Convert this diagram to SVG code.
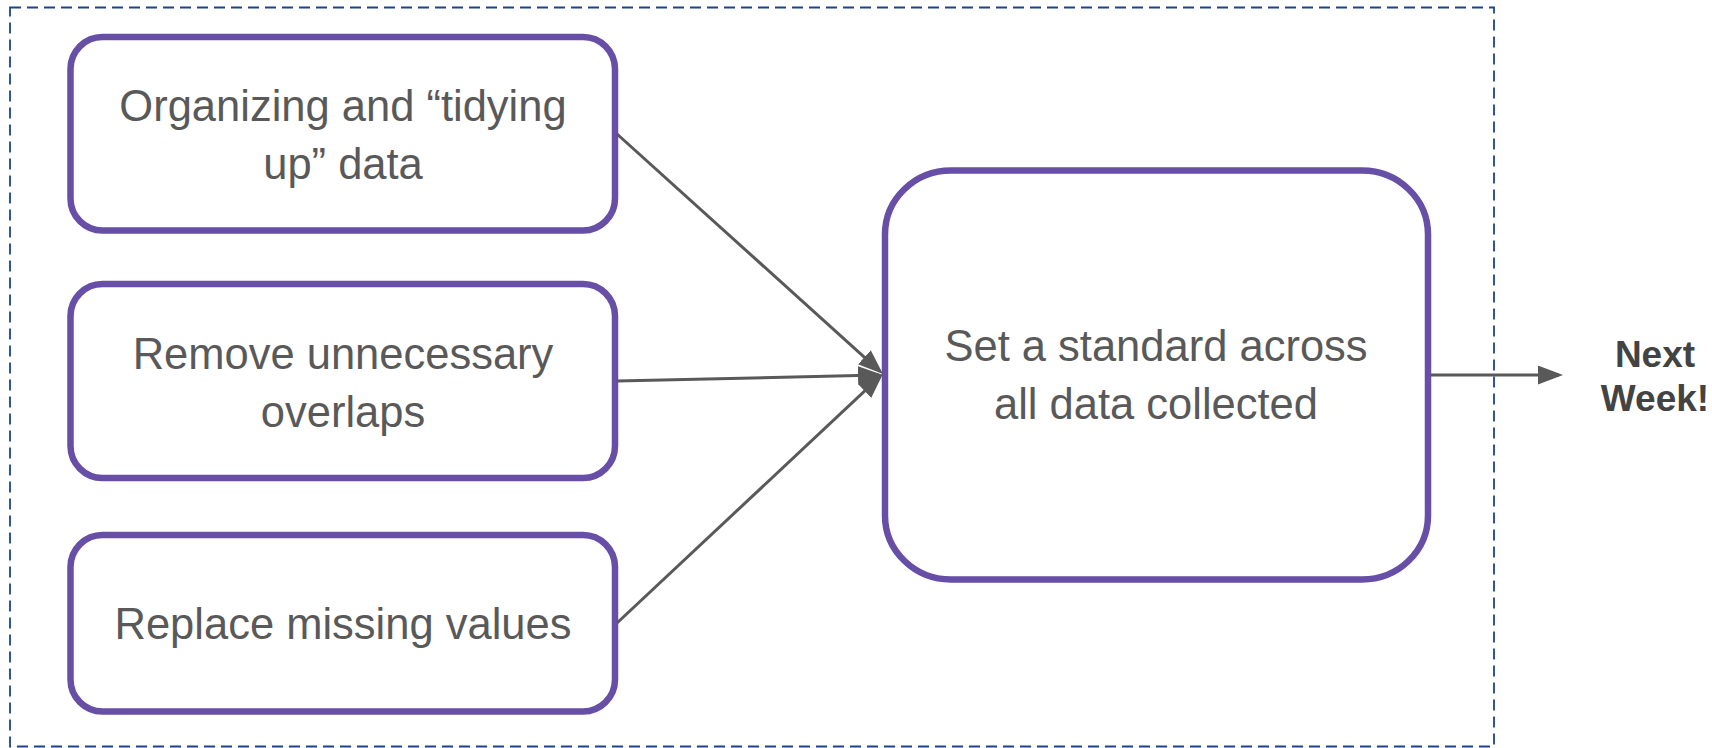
<svg xmlns="http://www.w3.org/2000/svg" width="1712" height="748" viewBox="0 0 1712 748">
<style>
.box{fill:#ffffff;stroke:#674ea7;stroke-width:6.5}
.lbl{font-family:"Liberation Sans",Arial,sans-serif;font-size:43.5px;fill:#595959;text-anchor:middle}
.bold{font-family:"Liberation Sans",Arial,sans-serif;font-size:37px;font-weight:bold;fill:#434343;text-anchor:middle}
.conn{stroke:#595959;stroke-width:3;fill:none}
</style>
<defs>
<marker id="ah" markerUnits="userSpaceOnUse" markerWidth="26" markerHeight="20" refX="21" refY="9.5" orient="auto">
<path d="M0,0 L25,9.5 L0,19 Z" fill="#595959"/>
</marker>
</defs>
<rect x="1" y="1" width="1710" height="746" fill="#ffffff"/>
<rect id="frame" x="10" y="7.5" width="1484" height="739" fill="none" stroke="#1c4587" stroke-width="1.8" stroke-dasharray="11,6"/>
<g id="node-organize">
<rect class="box" x="70.5" y="37" width="544.5" height="193.5" rx="32" ry="32"/>
<text class="lbl" x="343" y="121">Organizing and “tidying</text>
<text class="lbl" x="343" y="179">up” data</text>
</g>
<g id="node-remove">
<rect class="box" x="70.5" y="284" width="544.5" height="194" rx="32" ry="32"/>
<text class="lbl" x="343" y="369">Remove unnecessary</text>
<text class="lbl" x="343" y="427">overlaps</text>
</g>
<g id="node-replace">
<rect class="box" x="70.5" y="535" width="544.5" height="176.5" rx="32" ry="32"/>
<text class="lbl" x="343" y="639">Replace missing values</text>
</g>
<g id="node-standard">
<rect class="box" x="885" y="170.5" width="543" height="409" rx="66" ry="64"/>
<text class="lbl" x="1156" y="361">Set a standard across</text>
<text class="lbl" x="1156" y="419">all data collected</text>
</g>
<g id="node-next">
<text class="bold" x="1655" y="367">Next</text>
<text class="bold" x="1655" y="411">Week!</text>
</g>
<g id="connectors">
<line class="conn" x1="617" y1="134" x2="880" y2="371.3" marker-end="url(#ah)"/>
<line class="conn" x1="617" y1="381" x2="879" y2="375.1" marker-end="url(#ah)"/>
<line class="conn" x1="617" y1="623" x2="880" y2="376.7" marker-end="url(#ah)"/>
<line class="conn" x1="1431" y1="375" x2="1559" y2="375" marker-end="url(#ah)"/>
</g>
</svg>
